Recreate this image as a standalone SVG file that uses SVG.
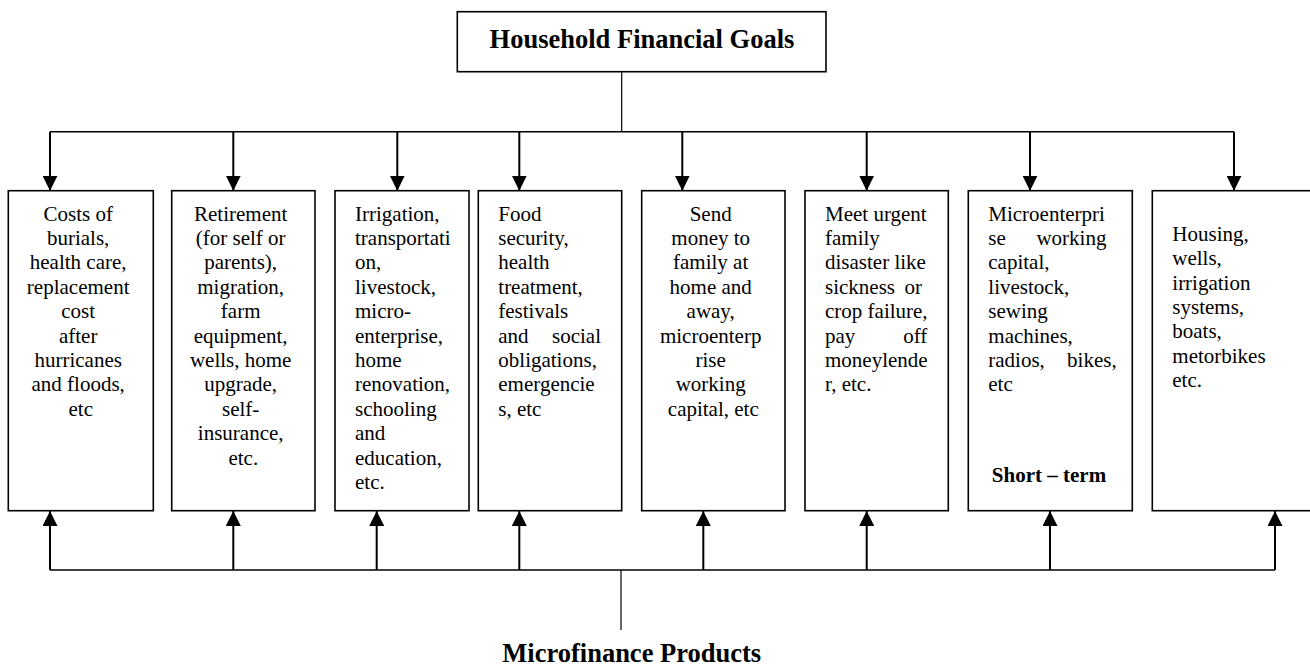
<svg xmlns="http://www.w3.org/2000/svg" width="1310" height="668" viewBox="0 0 1310 668">
<style>
  .box { fill: #ffffff; stroke: #000000; stroke-width: 1.6; }
  .t { font-family: "Liberation Serif", "Times New Roman", serif; font-size: 21px; fill: #000000; }
  .c { text-anchor: middle; }
  .e { text-anchor: end; }
  .title { font-family: "Liberation Serif", "Times New Roman", serif; font-size: 26.5px; font-weight: bold; fill: #000000; text-anchor: middle; }
  .b { font-weight: bold; }
  .arrow { stroke: #000000; stroke-width: 2; fill: none; marker-end: url(#ah); }
  .bus { stroke: #000000; stroke-width: 1.5; fill: none; }
  .stem { stroke: #000000; stroke-width: 1.2; fill: none; }
</style>
<defs>
  <marker id="ah" markerUnits="userSpaceOnUse" markerWidth="15" markerHeight="15" viewBox="0 0 15 15" refX="15" refY="7.5" orient="auto">
    <path d="M0,0 L15,7.5 L0,15 Z" fill="#000000"/>
  </marker>
</defs>
<rect width="1310" height="668" fill="#ffffff"/>

<g id="connectors">
  <line class="stem" x1="621.7" y1="71.7" x2="621.7" y2="131.7"/>
  <line class="bus" x1="50" y1="131.7" x2="1234" y2="131.7"/>
  <line class="arrow" x1="50" y1="131.7" x2="50" y2="190.7"/>
  <line class="arrow" x1="233.3" y1="131.7" x2="233.3" y2="190.7"/>
  <line class="arrow" x1="397.3" y1="131.7" x2="397.3" y2="190.7"/>
  <line class="arrow" x1="519.3" y1="131.7" x2="519.3" y2="190.7"/>
  <line class="arrow" x1="682.3" y1="131.7" x2="682.3" y2="190.7"/>
  <line class="arrow" x1="866.7" y1="131.7" x2="866.7" y2="190.7"/>
  <line class="arrow" x1="1030" y1="131.7" x2="1030" y2="190.7"/>
  <line class="arrow" x1="1234" y1="131.7" x2="1234" y2="190.7"/>

  <line class="stem" x1="621" y1="570" x2="621" y2="630"/>
  <line class="bus" x1="50" y1="570" x2="1275" y2="570"/>
  <line class="arrow" x1="50" y1="570" x2="50" y2="511"/>
  <line class="arrow" x1="233.3" y1="570" x2="233.3" y2="511"/>
  <line class="arrow" x1="376.7" y1="570" x2="376.7" y2="511"/>
  <line class="arrow" x1="519.3" y1="570" x2="519.3" y2="511"/>
  <line class="arrow" x1="703.3" y1="570" x2="703.3" y2="511"/>
  <line class="arrow" x1="866.7" y1="570" x2="866.7" y2="511"/>
  <line class="arrow" x1="1050" y1="570" x2="1050" y2="511"/>
  <line class="arrow" x1="1275" y1="570" x2="1275" y2="511"/>
</g>

<g id="goals">
  <rect class="box" x="457.3" y="11.7" width="368.7" height="60"/>
  <text class="title" x="642" y="48.3">Household Financial Goals</text>
</g>

<g id="box1">
  <rect class="box" x="8.3" y="190.7" width="145" height="320"/>
  <text class="t c">
    <tspan x="80.8" y="220.5">Costs of</tspan>
    <tspan x="80.8" y="244.9">burials,</tspan>
    <tspan x="80.8" y="269.3">health care,</tspan>
    <tspan x="80.8" y="293.7">replacement</tspan>
    <tspan x="80.8" y="318.1">cost</tspan>
    <tspan x="80.8" y="342.5">after</tspan>
    <tspan x="80.8" y="366.9">hurricanes</tspan>
    <tspan x="80.8" y="391.3">and floods,</tspan>
    <tspan x="80.8" y="415.7">etc</tspan>
  </text>
</g>

<g id="box2">
  <rect class="box" x="171.7" y="190.7" width="143.3" height="320"/>
  <text class="t c">
    <tspan x="243.3" y="220.5">Retirement</tspan>
    <tspan x="243.3" y="244.9">(for self or</tspan>
    <tspan x="243.3" y="269.3">parents),</tspan>
    <tspan x="243.3" y="293.7">migration,</tspan>
    <tspan x="243.3" y="318.1">farm</tspan>
    <tspan x="243.3" y="342.5">equipment,</tspan>
    <tspan x="243.3" y="366.9">wells, home</tspan>
    <tspan x="243.3" y="391.3">upgrade,</tspan>
    <tspan x="243.3" y="415.7">self-</tspan>
    <tspan x="243.3" y="440.1">insurance,</tspan>
    <tspan x="243.3" y="464.5">etc.</tspan>
  </text>
</g>

<g id="box3">
  <rect class="box" x="335" y="190.7" width="134" height="320"/>
  <text class="t">
    <tspan x="355" y="220.5">Irrigation,</tspan>
    <tspan x="355" y="244.9">transportati</tspan>
    <tspan x="355" y="269.3">on,</tspan>
    <tspan x="355" y="293.7">livestock,</tspan>
    <tspan x="355" y="318.1">micro-</tspan>
    <tspan x="355" y="342.5">enterprise,</tspan>
    <tspan x="355" y="366.9">home</tspan>
    <tspan x="355" y="391.3">renovation,</tspan>
    <tspan x="355" y="415.7">schooling</tspan>
    <tspan x="355" y="440.1">and</tspan>
    <tspan x="355" y="464.5">education,</tspan>
    <tspan x="355" y="488.9">etc.</tspan>
  </text>
</g>

<g id="box4">
  <rect class="box" x="478.3" y="190.7" width="143.4" height="320"/>
  <text class="t">
    <tspan x="498.3" y="220.5">Food</tspan>
    <tspan x="498.3" y="244.9">security,</tspan>
    <tspan x="498.3" y="269.3">health</tspan>
    <tspan x="498.3" y="293.7">treatment,</tspan>
    <tspan x="498.3" y="318.1">festivals</tspan>
    <tspan x="498.3" y="342.5">and</tspan>
    <tspan x="498.3" y="366.9">obligations,</tspan>
    <tspan x="498.3" y="391.3">emergencie</tspan>
    <tspan x="498.3" y="415.7">s, etc</tspan>
  </text>
  <text class="t e" x="601" y="342.5">social</text>
</g>

<g id="box5">
  <rect class="box" x="641.7" y="190.7" width="143.3" height="320"/>
  <text class="t c">
    <tspan x="713.3" y="220.5">Send</tspan>
    <tspan x="713.3" y="244.9">money to</tspan>
    <tspan x="713.3" y="269.3">family at</tspan>
    <tspan x="713.3" y="293.7">home and</tspan>
    <tspan x="713.3" y="318.1">away,</tspan>
    <tspan x="713.3" y="342.5">microenterp</tspan>
    <tspan x="713.3" y="366.9">rise</tspan>
    <tspan x="713.3" y="391.3">working</tspan>
    <tspan x="713.3" y="415.7">capital, etc</tspan>
  </text>
</g>

<g id="box6">
  <rect class="box" x="805" y="190.7" width="143.3" height="320"/>
  <text class="t">
    <tspan x="825" y="220.5">Meet urgent</tspan>
    <tspan x="825" y="244.9">family</tspan>
    <tspan x="825" y="269.3">disaster like</tspan>
    <tspan x="825" y="293.7">sickness</tspan>
    <tspan x="825" y="318.1">crop failure,</tspan>
    <tspan x="825" y="342.5">pay</tspan>
    <tspan x="825" y="366.9">moneylende</tspan>
    <tspan x="825" y="391.3">r, etc.</tspan>
  </text>
  <text class="t e">
    <tspan x="927.3" y="293.7">or</tspan>
    <tspan x="927.3" y="342.5">off</tspan>
  </text>
</g>

<g id="box7">
  <rect class="box" x="968.3" y="190.7" width="164" height="320"/>
  <text class="t">
    <tspan x="988.3" y="220.5">Microenterpri</tspan>
    <tspan x="988.3" y="244.9">se</tspan>
    <tspan x="988.3" y="269.3">capital,</tspan>
    <tspan x="988.3" y="293.7">livestock,</tspan>
    <tspan x="988.3" y="318.1">sewing</tspan>
    <tspan x="988.3" y="342.5">machines,</tspan>
    <tspan x="988.3" y="366.9">radios,</tspan>
    <tspan x="988.3" y="391.3">etc</tspan>
  </text>
  <text class="t e">
    <tspan x="1111.7" y="244.9">working</tspan>
    <tspan x="1116.7" y="366.9">bikes,</tspan>
  </text>
  <text class="t c b" x="1049" y="481.7">Short – term</text>
</g>

<g id="box8">
  <rect class="box" x="1152.3" y="190.7" width="160" height="320"/>
  <text class="t">
    <tspan x="1172.3" y="240.7">Housing,</tspan>
    <tspan x="1172.3" y="265.1">wells,</tspan>
    <tspan x="1172.3" y="289.5">irrigation</tspan>
    <tspan x="1172.3" y="313.9">systems,</tspan>
    <tspan x="1172.3" y="338.3">boats,</tspan>
    <tspan x="1172.3" y="362.7">metorbikes</tspan>
    <tspan x="1172.3" y="387.1">etc.</tspan>
  </text>
</g>

<g id="products">
  <text class="title" x="631.7" y="662">Microfinance Products</text>
</g>
</svg>
